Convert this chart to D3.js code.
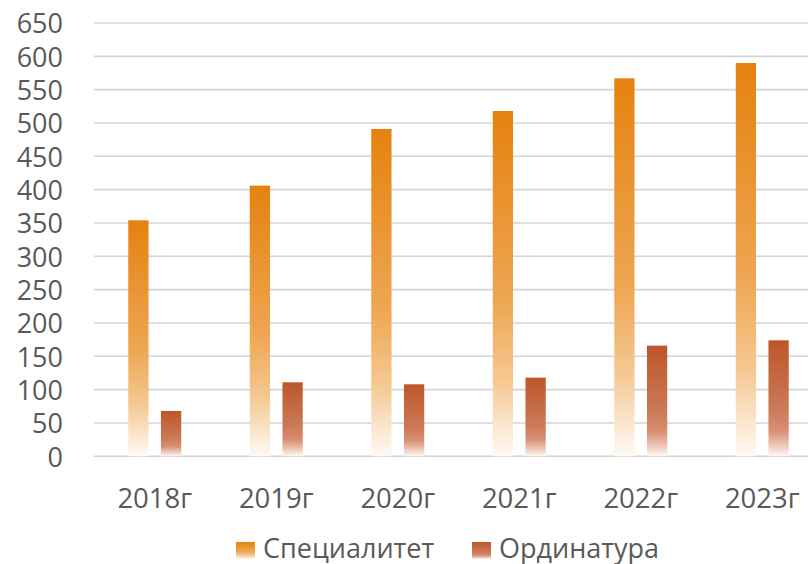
<!DOCTYPE html>
<html>
<head>
<meta charset="utf-8">
<script src="https://cdn.jsdelivr.net/npm/d3@7"></script>
<style>
html,body{margin:0;padding:0;background:#fff;}
svg{display:block;}
text{font-family:"Open Sans",sans-serif;fill:#595959;}
</style>
</head>
<body>
<svg id="c" width="808" height="564"></svg>
<script>
const categories = ["2018г","2019г","2020г","2021г","2022г","2023г"];
const seriesNames = ["Специалитет","Ординатура"];
const specValues = [354, 406, 491, 518, 567, 590];
const ordValues = [68, 111, 108, 118, 166, 174];
const yTicks = [0,50,100,150,200,250,300,350,400,450,500,550,600,650];

const svg = d3.select("#c");
const W = 808, H = 564;

const x = d3.scaleBand().domain(categories).range([94, 823]).paddingInner(0.564).paddingOuter(0.282);
const xs = d3.scaleBand().domain(seriesNames).range([0, x.bandwidth()]).paddingInner(0.38);
const y = d3.scaleLinear().domain([0, 650]).range([456.3, 23]);

const defs = svg.append("defs");
function grad(id, stops){
  const g = defs.append("linearGradient").attr("id", id).attr("x1",0).attr("y1",0).attr("x2",0).attr("y2",1);
  stops.forEach(s => g.append("stop").attr("offset", s[0]).attr("stop-color", s[1]));
}
grad("gSpec", [[0,"#E5820F"],[0.55,"#EEA652"],[0.78,"#F5C891"],[0.9,"#FAE3C8"],[1,"#FFFAF5"]]);
grad("gOrd", [[0,"#BD5628"],[0.6,"#CB7A58"],[0.78,"#D88F72"],[0.9,"#EDC5B5"],[1,"#FFF8F5"]]);
const fills = {"Специалитет":"url(#gSpec)","Ординатура":"url(#gOrd)"};

// gridlines
svg.append("g").selectAll("line").data(yTicks).join("line")
  .attr("x1", 94).attr("x2", W)
  .attr("y1", d => y(d)).attr("y2", d => y(d))
  .attr("stroke", d => d === 0 ? "#d0d0d0" : "#d4d4d4").attr("stroke-width", 1.6);

// y axis labels
const yAxis = d3.axisLeft(y).tickValues(yTicks).tickSize(0).tickPadding(0);
const yg = svg.append("g").attr("transform","translate(63,0)").call(yAxis);
yg.select(".domain").remove();
yg.selectAll("text").style("font-size","27px").attr("fill","#595959").attr("dy","0.36em");

// bars
const data = [];
categories.forEach((c,i) => {
  data.push({cat:c, s:"Специалитет", v:specValues[i]});
  data.push({cat:c, s:"Ординатура", v:ordValues[i]});
});
svg.append("g").selectAll("rect").data(data).join("rect")
  .attr("x", d => x(d.cat) + xs(d.s))
  .attr("width", xs.bandwidth())
  .attr("y", d => y(d.v))
  .attr("height", d => y(0) - y(d.v))
  .attr("fill", d => fills[d.s]);

// x axis labels
const xAxis = d3.axisBottom(x).tickSize(0).tickPadding(0);
const xg = svg.append("g").attr("transform","translate(0,508)").call(xAxis);
xg.select(".domain").remove();
xg.selectAll("text").style("font-size","27.5px").attr("fill","#595959").attr("dy","0");

// legend
const legend = [
  {name:"Специалитет", x:236},
  {name:"Ординатура", x:472}
];
const lg = svg.append("g");
legend.forEach(l => {
  lg.append("rect").attr("x", l.x).attr("y", 542).attr("width", 19).attr("height", 17).attr("fill", fills[l.name]);
  lg.append("text").attr("x", l.x + 27).attr("y", 558).style("font-size","27px").text(l.name);
});
</script>
</body>
</html>
